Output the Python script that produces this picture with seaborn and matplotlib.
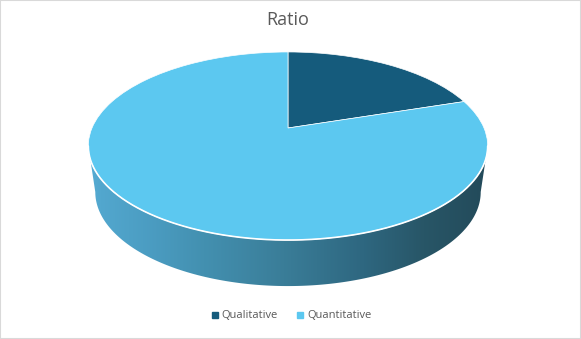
import numpy as np
import matplotlib
matplotlib.use("Agg")
import matplotlib.pyplot as plt
import seaborn as sns
from matplotlib import transforms as mtransforms
from matplotlib.patches import Polygon, Rectangle
from matplotlib.colors import LinearSegmentedColormap
from matplotlib.lines import Line2D

# ---- data ----
categories = ["Qualitative", "Quantitative"]
values = [20, 80]
slice_colors = ["#155B7C", "#5CC8F0"]
chart_title = "Ratio"

sns.set_theme(style="white")
plt.rcParams['font.family'] = ['Open Sans', 'DejaVu Sans']

W, H = 581, 339
fig = plt.figure(figsize=(W / 100, H / 100), dpi=100)
ax = fig.add_axes([0, 0, 1, 1])

# perspective parameters (pixel space)
cx, cy = 288, 128
B, A, k = 196, 90.6, 0.1915
depth = 46
shrink = 0.965


class Persp(mtransforms.Transform):
    input_dims = 2
    output_dims = 2
    is_separable = False
    has_inverse = False

    def transform_non_affine(self, vals):
        vals = np.asarray(vals, float)
        u = vals[..., 0]
        v = vals[..., 1]
        d = 1 + k * v
        return np.stack([cx + B * u / d, cy - A * v / d], axis=-1)


persp = Persp()

# top face via pie
wedges, _ = ax.pie(values, colors=slice_colors, startangle=90, counterclock=False,
                   wedgeprops=dict(edgecolor="white", linewidth=0.5))
tr = persp + ax.transData
for w in wedges:
    w.set_transform(tr)
    w.set_zorder(3)

# side wall
th = np.linspace(np.pi + np.arcsin(k), 2 * np.pi - np.arcsin(k), 300)
top = persp.transform(np.column_stack([np.cos(th), np.sin(th)]))
bot = np.column_stack([cx + (top[:, 0] - cx) * shrink, top[:, 1] + depth])
poly = Polygon(np.vstack([top, bot[::-1]]), closed=True, facecolor="none",
               edgecolor="none", transform=ax.transData)
ax.add_patch(poly)

grad_stops = [(0.0, "#56ACD4"), (0.03, "#52A7CE"), (0.17, "#4A9BC0"),
              (0.29, "#4390B0"), (0.49, "#3A7D98"), (0.69, "#2E6780"),
              (0.84, "#285667"), (1.0, "#234A5A")]
cmap = LinearSegmentedColormap.from_list("side", grad_stops)
xmin, xmax = top[:, 0].min(), top[:, 0].max()
im = ax.imshow(np.linspace(0, 1, 256)[None, :], cmap=cmap, aspect="auto",
               extent=(xmin, xmax, top[:, 1].max() + depth + 5, top[:, 1].min() - 5),
               zorder=2, interpolation="bilinear")
im.set_clip_path(poly)

# white rim
ax.plot(top[:, 0], top[:, 1], color="white", lw=1.2, zorder=4, solid_capstyle="round")

ax.set_aspect("auto")
ax.set_xlim(0, W)
ax.set_ylim(H, 0)
ax.axis("off")

# title
fig.text(288 / W, 1 - 20 / H, chart_title, ha="center", va="center",
         fontsize=13, color="#595959")

# legend
handles = [Line2D([], [], marker="s", ls="", color=c, markersize=4) for c in slice_colors]
fig.legend(handles, categories, loc="center", bbox_to_anchor=(291 / W, 1 - 316 / H),
           ncol=2, frameon=False, fontsize=8, labelcolor="#595959",
           handletextpad=0.2, columnspacing=1.6, handlelength=0.8)

# chart border
fig.patches.append(Rectangle((0, 0), 1, 1, transform=fig.transFigure, fill=False,
                             edgecolor="#D9D9D9", lw=1.5))

fig.savefig("out.png", dpi=100)
